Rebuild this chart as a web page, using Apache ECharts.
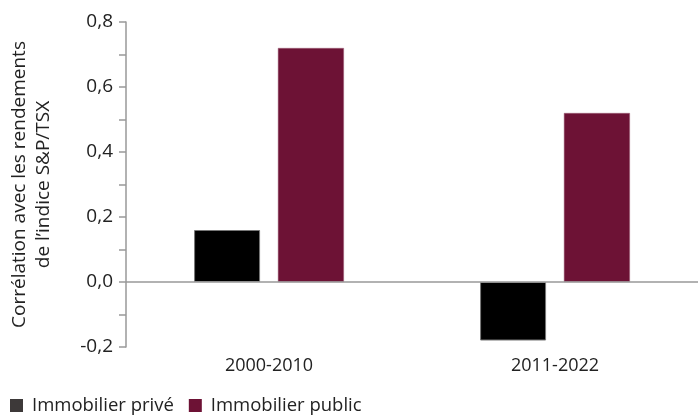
<!DOCTYPE html>
<html>
<head>
<meta charset="utf-8">
<script src="https://cdn.jsdelivr.net/npm/echarts@6/dist/echarts.min.js"></script>
<style>
  html, body { margin: 0; padding: 0; background: #fff; }
  #chart { width: 698px; height: 415px; }
</style>
</head>
<body>
<div id="chart"></div>
<script>
// periods on the x axis
const periods = ['2000-2010', '2011-2022']
// correlation with S&P/TSX returns
const privateRE = [0.16, -0.18]
const publicRE = [0.72, 0.52]
const seriesNames = ['Immobilier privé', 'Immobilier public']

const fontFamily = '"Open Sans", "Noto Sans", sans-serif'
const fmt = (v) => v.toFixed(1).replace('.', ',')

const chart = echarts.init(document.getElementById('chart'))
chart.setOption({
  animation: false,
  textStyle: { fontFamily: fontFamily },
  grid: { left: 117, width: 589, top: 22, bottom: 68 },
  legend: {
    left: 10,
    top: 396,
    padding: 0,
    itemWidth: 13,
    itemHeight: 13,
    itemGap: 15,
    icon: 'rect',
    textStyle: { fontSize: 18.5, color: '#222', padding: [0, 0, 0, 4] },
    data: [
      { name: seriesNames[0], itemStyle: { color: '#3d3939', borderWidth: 0 } },
      { name: seriesNames[1], itemStyle: { color: '#6d1235', borderWidth: 0 } }
    ]
  },
  xAxis: {
    type: 'category',
    data: periods,
    axisLine: { show: false, onZero: false },
    axisTick: { show: false },
    axisLabel: { fontSize: 18, color: '#222', margin: 10 }
  },
  yAxis: {
    type: 'value',
    min: -0.2,
    max: 0.8,
    interval: 0.2,
    name: 'Corrélation avec les rendements\nde l’indice S&P/TSX',
    nameLocation: 'middle',
    nameGap: 70,
    nameTextStyle: { fontSize: 19, color: '#222', lineHeight: 24 },
    axisLine: { show: true, lineStyle: { color: '#999', width: 1.5 } },
    axisTick: { show: true, length: 7, lineStyle: { color: '#999', width: 1.5 } },
    minorTick: { show: true, splitNumber: 2, length: 7, lineStyle: { color: '#999', width: 1.5 } },
    splitLine: { show: false },
    axisLabel: { fontSize: 19, color: '#222', margin: 13, formatter: fmt }
  },
  series: [
    {
      name: seriesNames[0],
      type: 'bar',
      data: privateRE,
      barWidth: 66,
      barGap: '27%',
      itemStyle: { color: '#000', borderColor: '#777', borderWidth: 1 },
      markLine: {
        silent: true,
        symbol: 'none',
        label: { show: false },
        lineStyle: { color: '#999', width: 1.5, type: 'solid' },
        data: [{ yAxis: 0 }]
      }
    },
    {
      name: seriesNames[1],
      type: 'bar',
      data: publicRE,
      barWidth: 66,
      itemStyle: { color: '#6d1235', borderColor: '#a0607a', borderWidth: 0.5 }
    }
  ]
})
</script>
</body>
</html>
